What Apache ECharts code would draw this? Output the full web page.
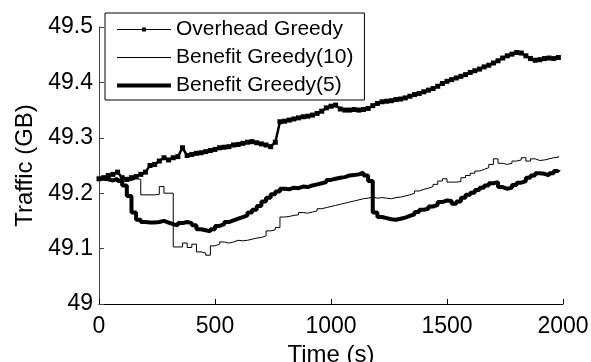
<!DOCTYPE html>
<html>
<head>
<meta charset="utf-8">
<script src="https://cdn.jsdelivr.net/npm/echarts@6/dist/echarts.min.js"></script>
<style>
  html, body { margin: 0; padding: 0; background: #fff; }
  #chart { width: 591px; height: 362px; }
</style>
</head>
<body>
<div id="chart"></div>
<script>
// 时间轴 (s)
const timeSec = [
  0, 20, 40, 60, 80, 100, 120, 140, 160, 180,
  200, 220, 240, 260, 280, 300, 320, 340, 360, 380,
  400, 420, 440, 460, 480, 500, 520, 540, 560, 580,
  600, 620, 640, 660, 680, 700, 720, 740, 760, 780,
  800, 820, 840, 860, 880, 900, 920, 940, 960, 980,
  1000, 1020, 1040, 1060, 1080, 1100, 1120, 1140, 1160, 1180,
  1200, 1220, 1240, 1260, 1280, 1300, 1320, 1340, 1360, 1380,
  1400, 1420, 1440, 1460, 1480, 1500, 1520, 1540, 1560, 1580,
  1600, 1620, 1640, 1660, 1680, 1700, 1720, 1740, 1760, 1780,
  1800, 1820, 1840, 1860, 1880, 1900, 1920, 1940, 1960, 1980
];

// Overhead Greedy
const overheadGreedy = [
  49.226, 49.228, 49.232, 49.234, 49.238, 49.228, 49.225, 49.228, 49.230, 49.234,
  49.238, 49.250, 49.252, 49.258, 49.264, 49.260, 49.264, 49.266, 49.282, 49.268,
  49.270, 49.272, 49.273, 49.275, 49.277, 49.279, 49.282, 49.283, 49.284, 49.287,
  49.288, 49.290, 49.292, 49.293, 49.291, 49.289, 49.287, 49.284, 49.292, 49.329,
  49.330, 49.332, 49.334, 49.336, 49.338, 49.339, 49.341, 49.344, 49.348, 49.354,
  49.357, 49.359, 49.352, 49.350, 49.350, 49.351, 49.350, 49.351, 49.353, 49.358,
  49.362, 49.365, 49.366, 49.367, 49.369, 49.370, 49.372, 49.375, 49.378, 49.380,
  49.383, 49.386, 49.389, 49.393, 49.398, 49.402, 49.405, 49.408, 49.411, 49.414,
  49.418, 49.421, 49.424, 49.428, 49.431, 49.435, 49.439, 49.444, 49.448, 49.451,
  49.454, 49.453, 49.448, 49.443, 49.440, 49.441, 49.443, 49.444, 49.443, 49.445
];

// Benefit Greedy(10)
const benefitGreedy10 = [
  49.226, 49.225, 49.223, 49.226, 49.222, 49.222, 49.223, 49.226, 49.225, 49.197,
  49.197, 49.197, 49.198, 49.212, 49.200, 49.200, 49.103, 49.103, 49.110, 49.102,
  49.108, 49.094, 49.092, 49.088, 49.105, 49.108, 49.112, 49.110, 49.112, 49.115,
  49.114, 49.115, 49.117, 49.119, 49.120, 49.123, 49.132, 49.134, 49.138, 49.157,
  49.158, 49.160, 49.161, 49.165, 49.164, 49.166, 49.168, 49.172, 49.174, 49.176,
  49.178, 49.180, 49.182, 49.184, 49.186, 49.188, 49.190, 49.191, 49.193, 49.191,
  49.192, 49.191, 49.190, 49.192, 49.193, 49.195, 49.197, 49.200, 49.204, 49.207,
  49.209, 49.212, 49.216, 49.222, 49.226, 49.220, 49.220, 49.221, 49.228, 49.232,
  49.236, 49.240, 49.243, 49.246, 49.252, 49.262, 49.254, 49.252, 49.254, 49.258,
  49.260, 49.264, 49.258, 49.262, 49.259, 49.260, 49.262, 49.264, 49.265, 49.267
];

// Benefit Greedy(5)
const benefitGreedy5 = [
  49.226, 49.225, 49.223, 49.226, 49.222, 49.214, 49.195, 49.165, 49.152, 49.148,
  49.147, 49.147, 49.148, 49.150, 49.147, 49.144, 49.142, 49.146, 49.148, 49.146,
  49.142, 49.135, 49.133, 49.131, 49.135, 49.141, 49.144, 49.148, 49.151, 49.154,
  49.157, 49.160, 49.165, 49.170, 49.177, 49.185, 49.192, 49.198, 49.203, 49.208,
  49.207, 49.210, 49.209, 49.212, 49.211, 49.214, 49.216, 49.218, 49.220, 49.224,
  49.226, 49.228, 49.229, 49.232, 49.233, 49.234, 49.237, 49.232, 49.222, 49.165,
  49.157, 49.155, 49.153, 49.152, 49.154, 49.156, 49.159, 49.162, 49.166, 49.170,
  49.172, 49.176, 49.179, 49.184, 49.187, 49.186, 49.181, 49.185, 49.192, 49.197,
  49.201, 49.206, 49.210, 49.214, 49.218, 49.220, 49.211, 49.208, 49.210, 49.215,
  49.219, 49.222, 49.228, 49.232, 49.236, 49.235, 49.232, 49.236, 49.240, 49.242
];

// 刻度文字
const xTickLabels = ['0', '500', '1000', '1500', '2000'];
const yTickLabels = ['49', '49.1', '49.2', '49.3', '49.4', '49.5'];

// 拼成 [x, y]
let pairs = (vals) => vals.map((v, i) => [timeSec[i], v]);

const font = 'Liberation Sans, Arial, Helvetica, sans-serif';

let mychart = echarts.init(document.getElementById('chart'), null, { renderer: 'canvas' });

let option = {
    animation: false,
    backgroundColor: '#fff',
    textStyle: { fontFamily: font, color: '#000' },
    grid: { left: 99, right: 28, top: 27, bottom: 58, outerBoundsMode: 'none', containLabel: false },
    legend: {
        orient: 'vertical',
        left: 105,
        top: 13,
        padding: [6, 11, 4, 10],
        itemWidth: 54,
        itemHeight: 5,
        itemGap: 7,
        backgroundColor: '#fff',
        borderColor: '#000',
        borderWidth: 1,
        textStyle: { fontFamily: font, fontSize: 21, color: '#000', lineHeight: 21 },
        data: [
            { name: 'Overhead Greedy', lineStyle: { width: 1.2 } },
            // 无标记, 只留线
            { name: 'Benefit Greedy(10)', itemStyle: { opacity: 0 }, lineStyle: { width: 1 } },
            { name: 'Benefit Greedy(5)', itemStyle: { opacity: 0 }, lineStyle: { width: 4 } }
        ]
    },
    xAxis: {
        type: 'value',
        min: 0,
        max: 2000,
        interval: 500,
        name: 'Time (s)',
        nameLocation: 'middle',
        nameGap: 38,
        nameTextStyle: { fontFamily: font, fontSize: 24, color: '#000' },
        axisLine: { lineStyle: { color: '#000', width: 1 } },
        axisTick: { inside: true, length: 5, lineStyle: { color: '#000' } },
        axisLabel: {
            fontFamily: font, fontSize: 23, color: '#000', margin: 11,
            formatter: (v) => xTickLabels[Math.round(v / 500)]
        },
        splitLine: { show: false }
    },
    yAxis: {
        type: 'value',
        min: 49,
        max: 49.5,
        interval: 0.1,
        name: 'Traffic (GB)',
        nameLocation: 'middle',
        nameGap: 62,
        nameTextStyle: { fontFamily: font, fontSize: 24, color: '#000' },
        axisLine: { show: true, lineStyle: { color: '#444', width: 1 } },
        axisTick: { show: true, inside: true, length: 5, lineStyle: { color: '#444' } },
        axisLabel: {
            fontFamily: font, fontSize: 23, color: '#000', margin: 6,
            formatter: (v) => yTickLabels[Math.round((v - 49) / 0.1)]
        },
        splitLine: { show: false }
    },
    series: [
        {
            name: 'Overhead Greedy',
            type: 'line',
            data: pairs(overheadGreedy),
            symbol: 'rect',
            symbolSize: 5,
            showSymbol: true,
            itemStyle: { color: '#000' },
            lineStyle: { color: '#000', width: 2.5 }
        },
        {
            name: 'Benefit Greedy(10)',
            type: 'line',
            step: 'end',
            data: pairs(benefitGreedy10),
            symbol: 'none',
            itemStyle: { color: '#000' },
            lineStyle: { color: '#000', width: 1 }
        },
        {
            name: 'Benefit Greedy(5)',
            type: 'line',
            step: 'end',
            data: pairs(benefitGreedy5),
            symbol: 'none',
            itemStyle: { color: '#000' },
            lineStyle: { color: '#000', width: 4 }
        }
    ]
};

mychart.setOption(option);
</script>
</body>
</html>
